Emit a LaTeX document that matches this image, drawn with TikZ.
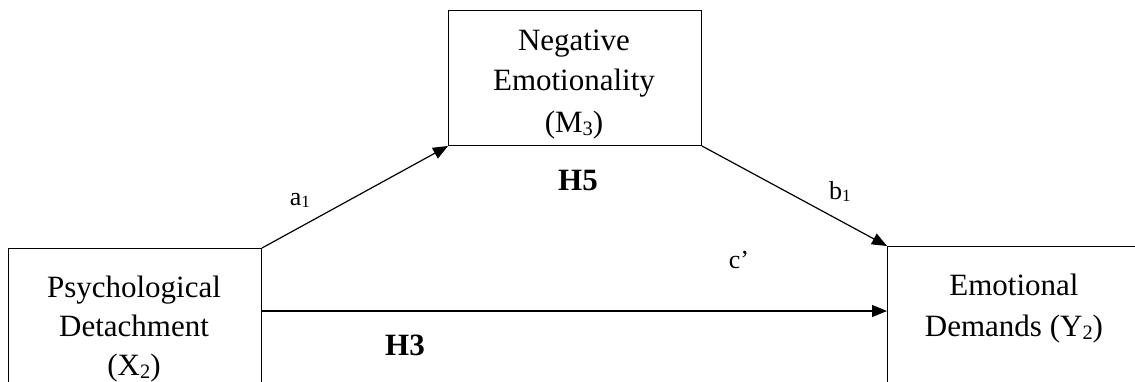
\documentclass[tikz,border=0pt]{standalone}
\usepackage{fontspec}
\setmainfont{Liberation Serif}
\usetikzlibrary{arrows.meta}
\newcommand\mysub[1]{\raisebox{-0.1em}{\fontsize{0.66em}{1em}\selectfont #1}}
\begin{document}
\begin{tikzpicture}[x=0.5pt,y=-0.5pt,
  box/.style={draw, line width=0.5pt, inner sep=0pt, anchor=north west},
  txt/.style={font=\fontsize{15.5}{20}\selectfont, inner sep=0pt, anchor=base},
  hyp/.style={font=\fontsize{15.5}{20}\selectfont\bfseries, inner sep=0pt, anchor=base},
  lab/.style={font=\fontsize{13}{15}\selectfont, inner sep=0pt, anchor=base},
  link/.style={line width=0.6pt, -{Triangle[length=7.5pt,width=6pt]}}]
\useasboundingbox (0,0) rectangle (1135,381);
\clip (0,0) rectangle (1135,381);
% boxes
\node[box, minimum width=126.5pt, minimum height=80pt] (X) at (8,248) {};
\node[box, minimum width=126.5pt, minimum height=67.5pt] (M) at (448,10) {};
\node[box, minimum width=127pt, minimum height=80pt] (Y) at (887,246) {};
% box texts
\node[txt] (m1) at (574,50) {Negative};
\node[txt] (m2) at (574,90) {Emotionality};
\node[txt] (m3) at (574,132) {(M\mysub{3})};
\node[txt] (x1) at (134,297) {Psychological};
\node[txt] (x2) at (134,336) {Detachment};
\node[txt] (x3) at (134,375) {(X\mysub{2})};
\node[txt] (y1) at (1014,295) {Emotional};
\node[txt] (y2) at (1014,336) {Demands (Y\mysub{2})};
% connectors
\draw[link] (X.north east) -- (M.south west);
\draw[link] (M.south east) -- (Y.north west);
\draw[link] (X.east |- 0,311) -- (Y.west |- 0,311);
% labels
\node[lab] (la) at (300,205) {a\mysub{1}};
\node[lab] (lb) at (840,199) {b\mysub{1}};
\node[lab] (lc) at (739,268) {c’};
\node[hyp] (h5) at (578,190) {H5};
\node[hyp] (h3) at (405,355) {H3};
\end{tikzpicture}
\end{document}
